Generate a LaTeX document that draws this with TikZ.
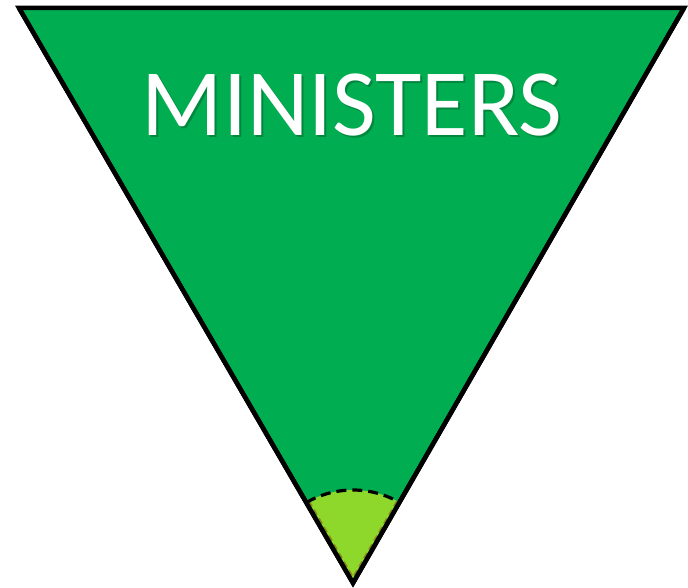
\documentclass[tikz,border=0pt]{standalone}
\usepackage{fontspec}
\setmainfont{Carlito}
\usetikzlibrary{calc}
\definecolor{maingreen}{HTML}{00AD50}
\definecolor{lightgreen}{HTML}{8DD82A}
\definecolor{sectoredge}{HTML}{8A8A1A}
\definecolor{textshadow}{HTML}{00873E}
\newcommand{\shadowtext}[1]{\rlap{\kern2pt\raisebox{-2pt}{\color{textshadow}#1}}#1}
\tikzset{
  tri/.style={fill=maingreen, draw=black, line width=4.5pt, line join=miter},
  sector/.style={fill=lightgreen},
  dashline/.style={draw=black, line width=3.2pt, dash pattern=on 10pt off 6pt},
  sideline/.style={draw=black, line width=4.5pt, line join=miter},
  title/.style={text=white, font=\fontsize{95}{95}\selectfont, inner sep=0pt}
}
\begin{document}
\begin{tikzpicture}[x=1pt,y=1pt]
\useasboundingbox (0,0) rectangle (688,587);
\coordinate (apex) at (353,4);
\coordinate (tl) at (19,579);
\coordinate (tr) at (684,579);
\draw[tri] (tl) -- (tr) -- (apex) -- cycle;
\coordinate (sl) at ($(apex)+(120:93)$);
\coordinate (sr) at ($(apex)+(60:93)$);
\fill[sector] (apex) -- (sl) arc[start angle=120, end angle=60, radius=93] -- cycle;
\begin{scope}
\clip (tl) -- (tr) -- (apex) -- cycle;
\draw[sectoredge, line width=7.5pt, dash pattern=on 6pt off 4pt] (sl) -- (apex) -- (sr);
\end{scope}
\draw[dashline] (sl) arc[start angle=120, end angle=60, radius=93];
\draw[sideline] (tl) -- (apex) -- (tr);
\node[title] (title) at (352,481) {\shadowtext{MINISTERS}};
\end{tikzpicture}
\end{document}
